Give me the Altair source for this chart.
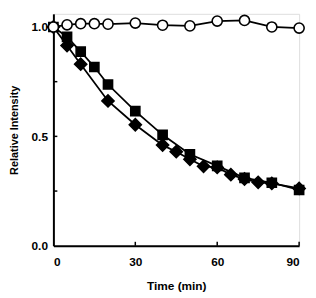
import altair as alt
import pandas as pd

# Open circles
circ_t = [0, 5, 10, 15, 20, 30, 40, 50, 60, 70, 80, 90]
circ_v = [1.0, 1.01, 1.015, 1.015, 1.013, 1.018, 1.008, 1.005, 1.027, 1.03, 1.0, 0.995]
# Filled squares
sq_t = [0, 5, 10, 15, 20, 30, 40, 50, 60, 70, 80, 90]
sq_v = [1.0, 0.955, 0.887, 0.817, 0.737, 0.615, 0.507, 0.418, 0.365, 0.31, 0.288, 0.255]
# Filled diamonds
dm_t = [0, 5, 10, 20, 30, 40, 45, 50, 55, 60, 65, 70, 75, 80, 90]
dm_v = [1.0, 0.915, 0.83, 0.662, 0.553, 0.46, 0.43, 0.395, 0.363, 0.358, 0.325, 0.305, 0.29, 0.285, 0.262]

x_ticks = [30, 60, 90]
y_ticks = [0.25, 0.5, 0.75, 1.0]
x_labels = [0, 30, 60, 90]
y_labels = [0.0, 0.5, 1.0]

W, H = 249, 235
FONT = "Liberation Sans"

circ = pd.DataFrame({"t": circ_t, "v": circ_v})
sq = pd.DataFrame({"t": sq_t, "v": sq_v})
dm = pd.DataFrame({"t": dm_t, "v": dm_v})

xs = alt.Scale(domain=[0, 90], nice=False, zero=False)
ys = alt.Scale(domain=[0, 1.06], nice=False, zero=False)

xax = alt.Axis(values=x_labels, title="Time (min)", tickSize=0, labelPadding=11,
               domainWidth=2, domainColor="black", grid=False,
               labelFont=FONT, labelFontSize=12, labelFontWeight="bold", labelColor="black",
               titleFont=FONT, titleFontSize=12, titleFontWeight="bold", titleColor="black",
               titlePadding=13)
yax = alt.Axis(values=y_labels, format=".1f", title="Relative Intensity", tickSize=0,
               labelPadding=6, domainWidth=2, domainColor="black", grid=False,
               labelFont=FONT, labelFontSize=12, labelFontWeight="bold", labelColor="black",
               titleFont=FONT, titleFontSize=11, titleFontWeight="bold", titleColor="black",
               titlePadding=12)

def series(df, shape, size, fill):
    base = alt.Chart(df)
    line = base.mark_line(color="black", strokeWidth=1.8).encode(
        x=alt.X("t:Q", scale=xs, axis=xax), y=alt.Y("v:Q", scale=ys, axis=yax))
    pts = base.mark_point(shape=shape, size=size, filled=True, fill=fill,
                          stroke="black", strokeWidth=1.6, opacity=1).encode(
        x=alt.X("t:Q", scale=xs), y=alt.Y("v:Q", scale=ys))
    return line, pts

l_dm, p_dm = series(dm, "diamond", 150, "black")
l_sq, p_sq = series(sq, "square", 85, "black")
l_c, p_c = series(circ, "circle", 105, "white")

xt = alt.Chart(pd.DataFrame({"t": x_ticks})).mark_rule(color="black", strokeWidth=1.5).encode(
    x=alt.X("t:Q", scale=xs), y=alt.value(H), y2=alt.value(H - 4))
yt = alt.Chart(pd.DataFrame({"v": y_ticks})).mark_rule(color="black", strokeWidth=1.5).encode(
    y=alt.Y("v:Q", scale=ys), x=alt.value(0), x2=alt.value(4))

chart = alt.layer(xt, yt, l_dm, l_sq, p_dm, p_sq, l_c, p_c).properties(
    width=W, height=H,
    autosize=alt.AutoSizeParams(type="none"),
    padding={"left": 46, "top": 4, "right": 9, "bottom": 50},
).configure_view(stroke=None).configure(background="white")

chart.save("out.html", embed_options={"renderer": "svg", "actions": False})
